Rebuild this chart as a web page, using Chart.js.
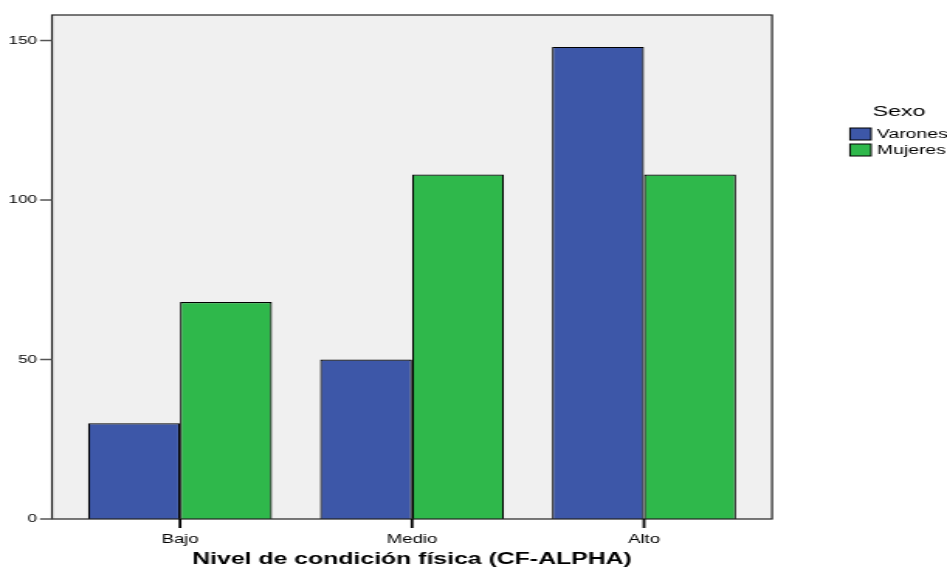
<!DOCTYPE html>
<html><head><meta charset="utf-8">
<script src="https://cdn.jsdelivr.net/npm/chart.js@4"></script>
<style>
html,body{margin:0;padding:0;background:#fff;overflow:hidden}
#wrap{width:947px;height:567px;overflow:hidden}
#c{display:block;transform-origin:0 0}
</style>
</head><body><div id="wrap"><canvas id="c"></canvas></div>
<script>
const categories = ['Bajo', 'Medio', 'Alto'];
const seriesNames = ['Varones', 'Mujeres'];
const varones = [30, 50, 148];
const mujeres = [68, 108, 108];
const yTicks = [0, 50, 100, 150];
const legendTitle = 'Sexo';
const xTitle = 'Nivel de condición física (CF-ALPHA)';

const colors = ['#3d57a8', '#2fb84b'];
const FONT = 'Arial, "Liberation Sans", sans-serif';

// the reference is horizontally stretched; draw narrower and stretch
const S = 1.55;
const W = Math.round(947 / S), H = 567;
const cv = document.getElementById('c');
cv.width = W; cv.height = H;
cv.style.width = W + 'px'; cv.style.height = H + 'px';
const SX = 947 / W;
cv.style.transform = 'scaleX(' + SX + ')';
const px = v => v / SX; // reference x pixel -> canvas x

const EXT = px(12);

const framePlugin = {
  id: 'frame',
  beforeDatasetsDraw(chart) {
    const {ctx, chartArea: a} = chart;
    ctx.save();
    ctx.fillStyle = '#f0f0f0';
    ctx.fillRect(a.left - EXT, a.top, a.right - a.left + 2 * EXT, a.bottom - a.top);
    ctx.restore();
  },
  afterDraw(chart) {
    const {ctx, chartArea: a, scales} = chart;
    ctx.save();
    ctx.strokeStyle = '#222';
    ctx.lineWidth = 1.2;
    ctx.strokeRect(a.left - EXT, a.top, a.right - a.left + 2 * EXT, a.bottom - a.top);
    // y tick marks
    ctx.strokeStyle = '#555';
    ctx.lineWidth = 1.5;
    scales.y.ticks.forEach(t => {
      const y = scales.y.getPixelForValue(t.value);
      ctx.beginPath();
      ctx.moveTo(a.left - EXT - px(12), y);
      ctx.lineTo(a.left - EXT, y);
      ctx.stroke();
    });
    // x tick marks
    ctx.fillStyle = '#000';
    categories.forEach((c, i) => {
      const x = scales.x.getPixelForValue(i);
      ctx.fillRect(x - 0.9, a.bottom, 1.8, 9);
    });
    // legend
    ctx.fillStyle = '#000';
    ctx.font = '15px ' + FONT;
    ctx.textAlign = 'center';
    ctx.textBaseline = 'middle';
    ctx.fillText(legendTitle, px(899), 112);
    ctx.font = '12.5px ' + FONT;
    ctx.textAlign = 'left';
    chart.data.datasets.forEach((ds, i) => {
      const y = 128 + i * 16;
      ctx.fillStyle = ds.backgroundColor;
      ctx.fillRect(px(850), y, px(21), 12);
      ctx.strokeStyle = '#000';
      ctx.lineWidth = 1;
      ctx.strokeRect(px(850), y, px(21), 12);
      ctx.fillStyle = '#000';
      ctx.fillText(ds.label, px(877), y + 6.5);
    });
    ctx.restore();
  }
};

new Chart(cv, {
  type: 'bar',
  data: {
    labels: categories,
    datasets: [
      {label: seriesNames[0], data: varones, backgroundColor: colors[0], borderColor: '#000', borderWidth: 1.2},
      {label: seriesNames[1], data: mujeres, backgroundColor: colors[1], borderColor: '#000', borderWidth: 1.2}
    ]
  },
  options: {
    responsive: false,
    animation: false,
    devicePixelRatio: 1,
    layout: {padding: {left: 0, right: W - px(760), top: 15, bottom: -2.5}},
    plugins: {legend: {display: false}, tooltip: {enabled: false}},
    datasets: {bar: {categoryPercentage: 0.793, barPercentage: 1}},
    scales: {
      x: {
        grid: {display: false, offset: false, drawOnChartArea: false, drawTicks: false},
        border: {display: false},
        ticks: {color: '#000', font: {size: 12, family: FONT}, padding: 13},
        title: {display: true, text: xTitle, color: '#000', font: {size: 16, weight: 'bold', family: FONT}, padding: {top: 0, bottom: 0}},
        afterFit(s) { s.height = 50.5; }
      },
      y: {
        min: 0, max: 158,
        afterBuildTicks(s) { s.ticks = yTicks.map(v => ({value: v})); },
        grid: {display: false, drawTicks: false},
        border: {display: false},
        ticks: {color: '#000', font: {size: 11, family: FONT}, padding: px(64 - 37)},
        afterFit(s) { s.width = px(64); s.paddingTop = 0; s.paddingBottom = 0; }
      }
    }
  },
  plugins: [framePlugin]
});
</script></body></html>
